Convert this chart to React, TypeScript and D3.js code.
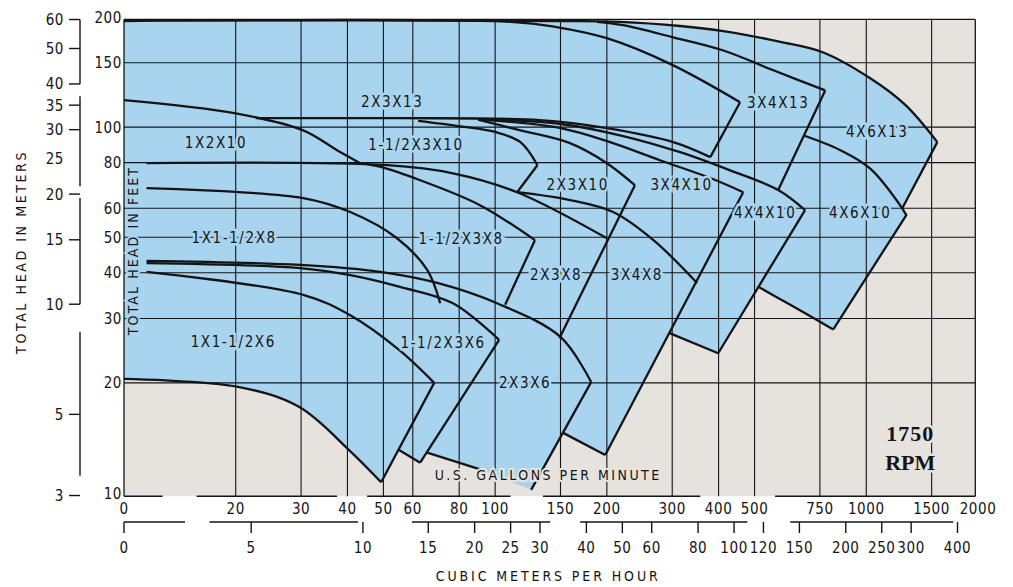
import React from 'react';
import * as d3 from 'd3';

type Pt = [number, number]; // [US gallons per minute, total head in feet]

const W = 1013;
const H = 587;
const BLUE = '#a9d4f0';
const GRAY = '#e6e3df';
const INK = '#141414';
const FONT = '"DejaVu Sans Condensed", "DejaVu Sans", sans-serif';
const GPM_PER_CMH = 4.403;
const FT_PER_M = 1 / 0.3048;

// ---- axes ----
const gpmTicks = [10, 20, 30, 40, 50, 60, 80, 100, 150, 200, 300, 400, 500, 750, 1000, 1500, 2000];
const gpmTickLabels = ['0', '20', '30', '40', '50', '60', '80', '100', '150', '200', '300', '400', '500', '750', '1000', '1500', '2000'];
const cmhTicks = [0, 5, 10, 15, 20, 25, 30, 40, 50, 60, 80, 100, 120, 150, 200, 250, 300, 400];
const feetTicks = [200, 150, 100, 80, 60, 50, 40, 30, 20, 10];
const meterLabels = [60, 50, 40, 35, 30, 25, 20, 15, 10, 5, 3];
const meterTickMarks = [60, 50, 40, 35, 30, 20, 15, 10, 5, 3];
const meterSpines: [number, number][] = [[60, 40], [37, 21], [19.5, 10], [8.4, 3.4]];
const gpmAxisRuns: [number, number][] = [[10, 12.7], [15.7, 37.5], [45.2, 110], [134.6, 357], [568, 1967]];
const cmhAxisRunsGpm: [number, number][] = [[10, 14.6], [17, 42.7], [59.7, 140.7], [169.5, 478], [624, 1716]];
const gridGpm = [20, 30, 40, 50, 60, 80, 100, 150, 200, 300, 400, 500, 750, 1000, 1500];
const gridFeet = [20, 30, 40, 50, 60, 80, 100, 150];

// ---- 13" casings ----
const max13_4x6: Pt[] = [[10, 196], [150, 195], [217, 194], [315, 189], [412, 183], [587, 171], [766, 160], [1025, 136], [1274, 115], [1554, 91]];
const max13_3x4: Pt[] = [[188, 194], [221, 190], [302, 176], [412, 162], [562, 143], [775, 126]];
const max13_2x3: Pt[] = [[10, 195], [110, 194], [145, 188], [200, 175], [300, 148], [457, 117]];
const min13_2x3: Pt[] = [[22.7, 105.8], [55.4, 105.8], [132, 104.5], [200, 99.4], [302, 91], [380, 82.8]];
const min13_4x6: Pt[] = [[676, 95], [851, 86.5], [1025, 77], [1250, 60]];

// ---- 10" casings ----
const max10_1x2: Pt[] = [[10, 118.5], [20, 109], [30.4, 98], [37.5, 86.5], [43.3, 79.7]];
const max10_15x3: Pt[] = [[62, 104], [80.5, 100.5], [100, 97], [117, 91], [130, 78.7]];
const max10_2x3: Pt[] = [[90, 104.8], [117, 98], [159, 90.4], [200, 79.7], [238, 69.4]];
const max10_3x4: Pt[] = [[90, 105], [150, 99.4], [204, 91], [278, 81.2], [380, 72.6], [466, 66.4]];
const max10_4x4: Pt[] = [[90, 105.2], [150, 102], [217, 95], [315, 85.4], [428, 76.3], [579, 67.3], [684, 59.3]];
const min10: Pt[] = [[11.5, 79.7], [51.2, 78.7], [77, 74.8], [114.6, 66.4], [200, 49.7]];
const min4x6x10: Pt[] = [[815, 28], [624, 32.7], [512, 36.6]];
const min4x4x10: Pt[] = [[399, 24.1], [294, 27.4]];

// ---- 8" casings ----
const max8_1x15: Pt[] = [[11.5, 68.1], [30.4, 64], [40.7, 58.6], [54.4, 49.7], [65.6, 40.7], [71.1, 33]];
const max8_15x3: Pt[] = [[43.3, 79.7], [50, 77.5], [62.8, 71.6], [91, 61.2], [128, 49.1]];
const max8_3x4: Pt[] = [[114.6, 66.4], [159, 63.2], [208, 58.6], [267, 49.1], [350, 37.5]];
const min3x4x8: Pt[] = [[198, 12.7], [152.5, 14.6]];

// ---- 6" casings ----
const max6_1x15: Pt[] = [[11.5, 40.2], [30.4, 34.8], [40.7, 30.6], [55.1, 24.6], [68.5, 20]];
const max6_15x3: Pt[] = [[11.5, 42.5], [29.8, 41.2], [40.7, 39.4], [55.4, 36.6], [77, 33], [102.5, 26.2]];
const max6_2x3: Pt[] = [[11.5, 43.1], [29.8, 42], [49, 40.2], [69.8, 37.5], [101.2, 33], [150, 26.7], [181.4, 20.1]];
const min6_1x15: Pt[] = [[10, 20.5], [20.3, 19.5], [29.6, 17.2], [40.4, 13.1], [49.3, 10.7]];
const min6_15x3: Pt[] = [[55.1, 13.1], [62.8, 12.1]];
const min6_2x3: Pt[] = [[65.6, 12.9], [91.1, 11.6], [125, 10.2]];

// ---- run-out (right hand) edges ----
const end2x3x13: Pt[] = [[457, 117], [380, 82.8]];
const end3x4x13: Pt[] = [[775, 126], [579, 67.3]];
const end4x6x13: Pt[] = [[1554, 91], [1250, 60], [1282, 57.5], [815, 28]];
const end4x4x10: Pt[] = [[684, 59.3], [399, 24.1]];
const end3x4x10: Pt[] = [[466, 66.4], [198, 12.7]];
const end2x3x10: Pt[] = [[238, 69.4], [149, 26.5]];
const end15x3x10: Pt[] = [[130, 78.7], [114.6, 66.4]];
const end15x3x8: Pt[] = [[128, 49.1], [106.4, 32.7]];
const end1x15x6: Pt[] = [[68.5, 20], [49.3, 10.7]];
const end15x3x6: Pt[] = [[102.5, 26.2], [62.8, 12.1]];
const end2x3x6: Pt[] = [[181.4, 20.1], [125, 10.2]];

// ---- labels ----
const pumpNames = ['2X3X13', '3X4X13', '4X6X13', '1X2X10', '1-1/2X3X10', '2X3X10', '3X4X10', '4X4X10', '4X6X10',
  '1X1-1/2X8', '1-1/2X3X8', '2X3X8', '3X4X8', '1X1-1/2X6', '1-1/2X3X6', '2X3X6'];
const pumpLabelAt: Pt[] = [[52.8, 117], [579, 116.3], [1071, 96.9], [17.7, 90.4], [61.2, 89.3], [167, 69.4], [318, 69.4],
  [534, 58.2], [963, 58.2], [19.8, 49.9], [81, 49.6], [146, 39.4], [241, 39.4], [19.7, 25.9], [72.4, 25.7], [120.4, 20]];
const gpmTitleAt: Pt = [139, 11.2];
const rpmAt: Pt = [1314, 14.6];

export default function App() {
  const ref = React.useRef<SVGSVGElement>(null);

  React.useEffect(() => {
    if (!ref.current) return;
    const svg = d3.select(ref.current);
    svg.selectAll('*').remove();

    const x = d3.scaleLog().domain([10, 2000]).range([124, 978]);
    const y = d3.scaleLog().domain([10, 200]).range([493, 17]);
    const xL = x(10), xR = x(1967), yT = y(197), yB = y(9.8);

    const smooth = d3.line<Pt>().x(d => x(d[0])).y(d => y(d[1])).curve(d3.curveCatmullRom.alpha(0.5));
    const straight = d3.line<Pt>().x(d => x(d[0])).y(d => y(d[1]));

    // plot background
    svg.append('rect')
      .attr('x', xL).attr('y', yT)
      .attr('width', xR - xL).attr('height', yB - yT)
      .attr('fill', GRAY);

    // coverage area (union of all pump regions)
    const rim: Pt[] = [
      ...end4x6x13,
      ...min4x6x10.slice(1),
      end4x4x10[1],
      ...min4x4x10.slice(1),
      end3x4x10[1],
      ...min3x4x8.slice(1),
      ...[...min6_2x3].reverse(),
      end15x3x6[1],
      min6_15x3[0],
      end1x15x6[1],
    ];
    const area = [smooth(max13_4x6), straight(rim), smooth([...min6_1x15].reverse())]
      .map((p, i) => (i ? (p as string).replace(/^M/, 'L') : p))
      .join('') + 'Z';
    svg.append('path').attr('d', area).attr('fill', BLUE);

    // grid
    const grid = svg.append('g').attr('stroke', INK).attr('stroke-width', 1.1);
    gridGpm.forEach(v => {
      grid.append('line').attr('x1', x(v)).attr('x2', x(v)).attr('y1', yT).attr('y2', yB);
    });
    gridFeet.forEach(v => {
      grid.append('line').attr('x1', xL).attr('x2', xR).attr('y1', y(v)).attr('y2', y(v));
    });

    // frame
    const frame = svg.append('g').attr('stroke', INK).attr('stroke-width', 1.3).attr('fill', 'none');
    frame.append('line').attr('x1', xL).attr('x2', xL).attr('y1', yT).attr('y2', yB);
    frame.append('line').attr('x1', xR).attr('x2', xR).attr('y1', yT).attr('y2', yB);
    frame.append('line').attr('x1', xL).attr('x2', xR).attr('y1', yT).attr('y2', yT);

    // pump curves
    const curves = svg.append('g').attr('fill', 'none').attr('stroke', INK)
      .attr('stroke-width', 2.3).attr('stroke-linejoin', 'round');
    [max13_4x6, max13_3x4, max13_2x3, min13_2x3, min13_4x6,
      max10_1x2, max10_15x3, max10_2x3, max10_3x4, max10_4x4, min10, min4x6x10, min4x4x10,
      max8_1x15, max8_15x3, max8_3x4,
      max6_1x15, max6_15x3, max6_2x3, min6_1x15].forEach(c => {
      curves.append('path').attr('d', smooth(c));
    });
    [end2x3x13, end3x4x13, end4x6x13, end4x4x10, end3x4x10, end2x3x10, end15x3x10, end15x3x8,
      end1x15x6, end15x3x6, end2x3x6, min3x4x8, min6_15x3, min6_2x3.slice(0, 2)].forEach(c => {
      curves.append('path').attr('d', straight(c));
    });

    // pump labels
    svg.append('g')
      .selectAll('text')
      .data(pumpNames)
      .join('text')
      .attr('x', (_, i) => x(pumpLabelAt[i][0]))
      .attr('y', (_, i) => y(pumpLabelAt[i][1]) + 5)
      .attr('text-anchor', 'middle')
      .attr('font-family', FONT)
      .attr('font-size', 15)
      .attr('letter-spacing', 1.6)
      .attr('fill', INK)
      .attr('stroke', BLUE)
      .attr('stroke-width', 5)
      .attr('paint-order', 'stroke')
      .text(d => d);

    // in-plot titles
    svg.append('text')
      .attr('x', x(gpmTitleAt[0])).attr('y', y(gpmTitleAt[1]) + 5)
      .attr('text-anchor', 'middle')
      .attr('font-family', FONT).attr('font-size', 14).attr('letter-spacing', 2.5)
      .attr('fill', INK).attr('stroke', GRAY).attr('stroke-width', 4).attr('paint-order', 'stroke')
      .text('U.S. GALLONS PER MINUTE');

    const rpm = svg.append('g')
      .attr('font-family', '"Liberation Serif", "DejaVu Serif", serif')
      .attr('font-weight', 'bold').attr('font-size', 22)
      .attr('text-anchor', 'middle').attr('fill', INK)
      .attr('stroke', GRAY).attr('stroke-width', 5).attr('paint-order', 'stroke');
    rpm.append('text').attr('x', x(rpmAt[0])).attr('y', y(rpmAt[1]) + 8).attr('letter-spacing', 1).text('1750');
    rpm.append('text').attr('x', x(rpmAt[0])).attr('y', y(rpmAt[1]) + 37).text('RPM');

    svg.append('text')
      .attr('transform', `translate(${xL + 14},${y(46)}) rotate(-90)`)
      .attr('text-anchor', 'middle')
      .attr('font-family', FONT).attr('font-size', 14).attr('letter-spacing', 2.1)
      .attr('fill', INK).attr('stroke', BLUE).attr('stroke-width', 4).attr('paint-order', 'stroke')
      .text('TOTAL HEAD IN FEET');

    // left axes
    const axes = svg.append('g').attr('font-family', FONT).attr('font-size', 15).attr('fill', INK);
    feetTicks.forEach(v => {
      axes.append('text').attr('x', 122).attr('y', y(v) + 5.5).attr('text-anchor', 'end')
        .attr('letter-spacing', 0.6).text(String(v));
    });
    meterLabels.forEach(m => {
      axes.append('text').attr('x', 64).attr('y', y(m * FT_PER_M) + 5.5).attr('text-anchor', 'end')
        .attr('letter-spacing', 0.6).text(String(m));
    });
    const mAxis = svg.append('g').attr('stroke', INK).attr('stroke-width', 1.4);
    meterTickMarks.forEach(m => {
      mAxis.append('line').attr('x1', 69).attr('x2', 80).attr('y1', y(m * FT_PER_M)).attr('y2', y(m * FT_PER_M));
    });
    meterSpines.forEach(([a, b]) => {
      mAxis.append('line').attr('x1', 80).attr('x2', 80).attr('y1', y(a * FT_PER_M)).attr('y2', y(b * FT_PER_M));
    });
    svg.append('text')
      .attr('transform', `translate(26,${y(45.6)}) rotate(-90)`)
      .attr('text-anchor', 'middle')
      .attr('font-family', FONT).attr('font-size', 14).attr('letter-spacing', 2.6).attr('fill', INK)
      .text('TOTAL HEAD IN METERS');

    // bottom axes
    const bAxis = svg.append('g').attr('stroke', INK).attr('stroke-width', 1.4);
    gpmAxisRuns.forEach(([a, b]) => {
      bAxis.append('line').attr('x1', x(a)).attr('x2', x(b)).attr('y1', yB).attr('y2', yB);
    });
    const cmhY = 522;
    cmhAxisRunsGpm.forEach(([a, b]) => {
      bAxis.append('line').attr('x1', x(a)).attr('x2', x(b)).attr('y1', cmhY).attr('y2', cmhY);
    });
    const cmhToGpm = (c: number) => (c === 0 ? 10 : c * GPM_PER_CMH);
    cmhTicks.forEach(c => {
      bAxis.append('line').attr('x1', x(cmhToGpm(c))).attr('x2', x(cmhToGpm(c)))
        .attr('y1', cmhY).attr('y2', cmhY + 11);
    });

    gpmTicks.forEach((v, i) => {
      axes.append('text').attr('x', x(v)).attr('y', yB + 18).attr('text-anchor', 'middle')
        .attr('letter-spacing', 0.6).text(gpmTickLabels[i]);
    });
    cmhTicks.forEach(c => {
      axes.append('text').attr('x', x(cmhToGpm(c))).attr('y', cmhY + 31).attr('text-anchor', 'middle')
        .attr('letter-spacing', 0.6).text(String(c));
    });
    svg.append('text')
      .attr('x', x(139)).attr('y', 581)
      .attr('text-anchor', 'middle')
      .attr('font-family', FONT).attr('font-size', 14).attr('letter-spacing', 2.9).attr('fill', INK)
      .text('CUBIC METERS PER HOUR');
  }, []);

  return (
    <div style={{ width: W, height: H, background: '#fff' }}>
      <style>{'body{margin:0;background:#fff}'}</style>
      <svg ref={ref} width={W} height={H} style={{ display: 'block' }} />
    </div>
  );
}
